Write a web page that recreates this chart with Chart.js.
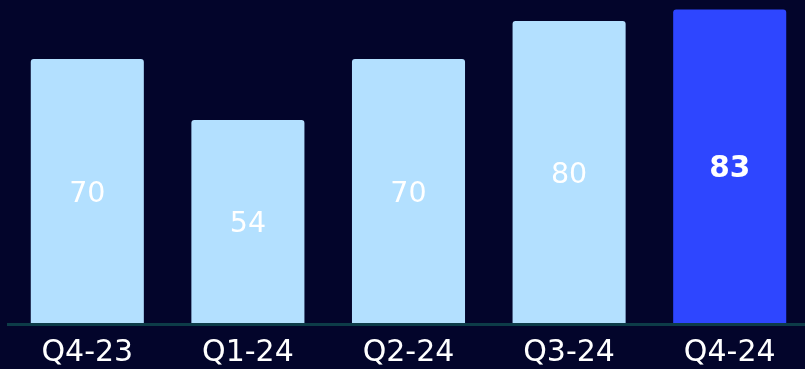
<!DOCTYPE html>
<html>
<head>
<meta charset="utf-8">
<script src="https://cdn.jsdelivr.net/npm/chart.js@4"></script>
<style>
  html, body { margin: 0; padding: 0; background: #03052b; overflow: hidden; }
  #wrap { position: relative; width: 812px; height: 382px; }
</style>
</head>
<body>
<div id="wrap"><canvas id="quarterChart"></canvas></div>
<script>
const quarters = ['Q4-23', 'Q1-24', 'Q2-24', 'Q3-24', 'Q4-24'];
const values = [70, 54, 70, 80, 83];
const barColors = ['#b3e0ff', '#b3e0ff', '#b3e0ff', '#b3e0ff', '#2e46ff'];
const highlightIndex = 4;

// valeurs écrites au milieu de chaque barre
const barValues = {
    id: 'barValues',
    afterDatasetsDraw(chart) {
        const ctx = chart.ctx;
        const meta = chart.getDatasetMeta(0);
        ctx.save();
        ctx.textAlign = 'center';
        ctx.textBaseline = 'middle';
        ctx.fillStyle = '#ffffff';
        meta.data.forEach((bar, i) => {
            const bold = i === highlightIndex;
            ctx.font = (bold ? 'bold 29.5px' : '28.5px') + ' "DejaVu Sans", Verdana, sans-serif';
            const y = (bar.y + bar.base) / 2 + 2;
            ctx.fillText(values[i], bar.x, y);
        });
        // ligne de base par-dessus les barres
        const area = chart.chartArea;
        ctx.strokeStyle = '#0d3c48';
        ctx.lineWidth = 3;
        ctx.beginPath();
        ctx.moveTo(area.left, area.bottom - 1.5);
        ctx.lineTo(area.right, area.bottom - 1.5);
        ctx.stroke();
        ctx.restore();
    }
};

new Chart(document.getElementById('quarterChart').getContext('2d'), {
    type: 'bar',
    data: {
        labels: quarters,
        datasets: [{
            data: values,
            backgroundColor: barColors,
            borderRadius: 3,
            borderSkipped: 'start',
            barPercentage: 0.704,
            categoryPercentage: 1
        }]
    },
    options: {
        responsive: true,
        maintainAspectRatio: false,
        animation: false,
        layout: { padding: { left: 7, right: 2, top: 0, bottom: 2 } },
        plugins: {
            legend: { display: false },
            tooltip: { enabled: false }
        },
        scales: {
            x: {
                grid: { display: false, drawTicks: false },
                border: { display: false },
                ticks: {
                    color: '#ffffff',
                    padding: 12,
                    font: { family: '"DejaVu Sans", Verdana, sans-serif', size: 30, lineHeight: 1 }
                }
            },
            y: {
                display: false,
                min: 0,
                max: 85.5
            }
        }
    },
    plugins: [barValues]
});
</script>
</body>
</html>
